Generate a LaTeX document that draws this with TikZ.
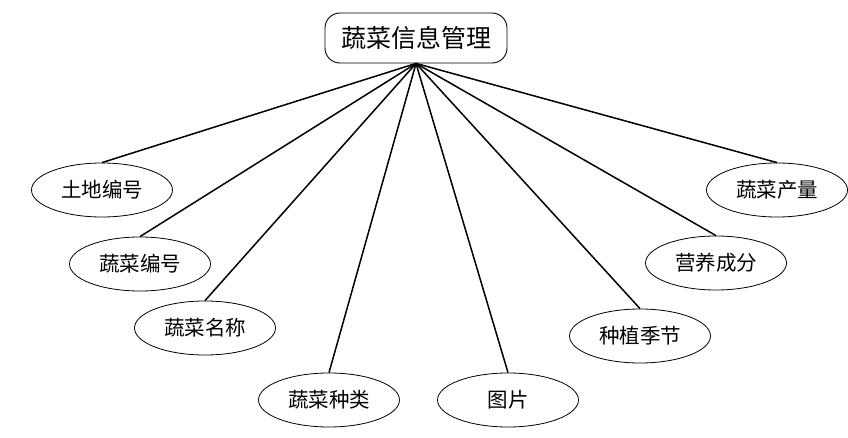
\documentclass[tikz,border=0pt]{standalone}
\usepackage{fontspec}
\usepackage{tikz}
\usetikzlibrary{positioning,shapes.geometric}
\newfontfamily\cjk{Noto Sans CJK SC}

\begin{document}
\begin{tikzpicture}[x=1pt,y=-1pt,
  entity/.style={draw,rounded corners=15pt,line width=0.9pt,minimum width=182pt,minimum height=50pt,font=\cjk\fontsize{25}{29}\selectfont},
  attr/.style={draw,ellipse,line width=0.8pt,minimum width=141pt,minimum height=54pt,inner sep=0pt,font=\cjk\fontsize{20.5}{24}\selectfont},
  link/.style={line width=1.5pt}]
  \useasboundingbox (0,0) rectangle (848,438);
  % entity
  \node[entity] (veg) at (416,38) {蔬菜信息管理};
  % attributes
  \node[attr] (land) at (102,190) {土地编号};
  \node[attr] (vid) at (140,264) {蔬菜编号};
  \node[attr] (vname) at (205,328) {蔬菜名称};
  \node[attr] (vkind) at (329,400) {蔬菜种类};
  \node[attr] (pic) at (508,400) {图片};
  \node[attr] (season) at (640,336) {种植季节};
  \node[attr] (nutri) at (716,263) {营养成分};
  \node[attr] (yield) at (777,190) {蔬菜产量};
  % links
  \foreach \a in {land,vid,vname,vkind,pic,season,nutri,yield}
    \draw[link] (veg.south) -- (\a.north);
\end{tikzpicture}
\end{document}
